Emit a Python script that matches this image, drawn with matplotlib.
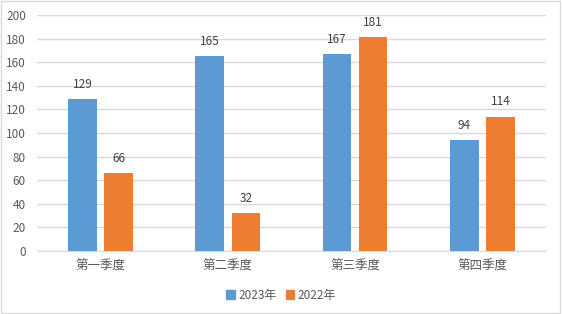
import numpy as np
import matplotlib
matplotlib.use('Agg')
import matplotlib.pyplot as plt
import matplotlib.patches as mpatches

plt.rcParams['font.family'] = ['Noto Sans CJK SC', 'DejaVu Sans']

# --- data ---
quarters = ['第一季度', '第二季度', '第三季度', '第四季度']
series_names = ['2023年', '2022年']
v2023 = [129, 165, 167, 94]
v2022 = [66, 32, 181, 114]
y_ticks = [0, 20, 40, 60, 80, 100, 120, 140, 160, 180, 200]

COLORS = ['#5B9BD5', '#ED7D31']
GRID = '#D9D9D9'
TXT = '#595959'

fig = plt.figure(figsize=(5.62, 3.14), dpi=100)
ax = fig.add_axes([0.0658, 0.2006, 0.9057, 0.7514])

x = np.arange(len(quarters))
w = 0.225
off = 0.142
for vals, name, col, sgn in [(v2023, series_names[0], COLORS[0], -1), (v2022, series_names[1], COLORS[1], 1)]:
    bars = ax.bar(x + sgn * off, vals, width=w, color=col, label=name, zorder=3)
    for b, v in zip(bars, vals):
        ax.text(b.get_x() + b.get_width() / 2, v + 7, str(v), ha='center', va='bottom',
                fontsize=8.5, color='#404040')

ax.set_xlim(-0.5, 3.5)
ax.set_ylim(0, 200)
ax.set_yticks(y_ticks)
ax.set_xticks(x)
ax.set_xticklabels(quarters)
ax.grid(axis='y', color=GRID, linewidth=1, zorder=0)
for s in ['top', 'right', 'left']:
    ax.spines[s].set_visible(False)
ax.spines['bottom'].set_color(GRID)
ax.tick_params(axis='both', length=0, colors=TXT, labelsize=8.5)
ax.tick_params(axis='x', pad=6, labelsize=9)
ax.tick_params(axis='y', pad=8)

handles = [mpatches.Patch(color=c, label=n) for c, n in zip(COLORS, series_names)]
fig.legend(handles=handles, loc='center', bbox_to_anchor=(0.5, 0.06), ncol=2, frameon=False,
           fontsize=8.5, labelcolor=TXT, handlelength=0.7, handleheight=0.7, handletextpad=0.3,
           columnspacing=0.8)

fig.patches.append(mpatches.Rectangle((0.002, 0.003), 0.995, 0.994, transform=fig.transFigure,
                                      fill=False, edgecolor=GRID, linewidth=1))

fig.savefig('out.png', dpi=100, facecolor='white')
